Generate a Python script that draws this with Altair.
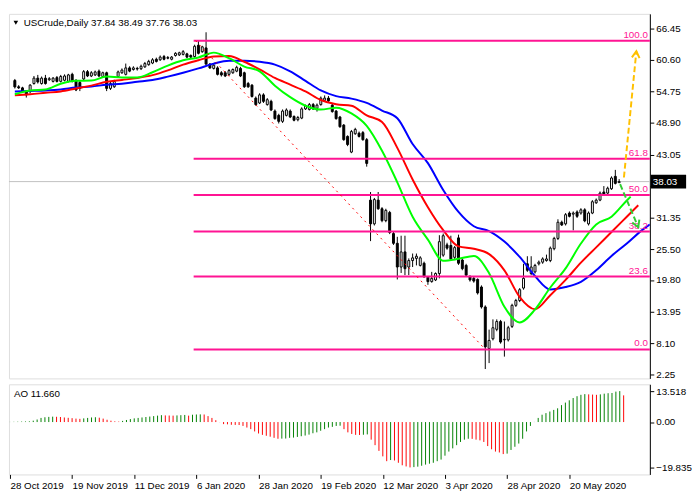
import altair as alt
import pandas as pd

# ---------------- data ----------------
symbol = "USCrude,Daily"
date_labels = ["28 Oct 2019", "19 Nov 2019", "11 Dec 2019", "6 Jan 2020", "28 Jan 2020",
               "19 Feb 2020", "12 Mar 2020", "3 Apr 2020", "28 Apr 2020", "20 May 2020"]
date_ticks = [0, 16, 32, 48, 64, 80, 96, 112, 128, 144]
price_ticks = [2.25, 8.10, 13.95, 19.80, 25.50, 31.35, 37.20, 43.05, 48.90, 54.75, 60.60, 66.45]

opens = [56.76, 55.6, 55.4, 54.7, 54.7, 56.2, 57.2, 56.2, 57.2, 56.9, 56.6, 57.3, 56.6, 56.8, 56.6, 57.9,
         56.8, 56.4, 57.05, 58.4, 57.6, 57.8, 58.5, 57.5, 58.2, 55.3, 55.6, 57.5, 58.2, 57.9, 59.1, 58.8,
         59.0, 58.95, 59.3, 59.7, 60.0, 60.7, 60.6, 61.2, 61.0, 60.7, 61.4, 61.5, 61.6, 61.7, 61.4, 61.2,
         63.3, 62.1, 62.8, 59.8, 59.0, 59.1, 58.2, 58.2, 57.9, 58.2, 58.5, 59.0, 58.2, 56.2, 55.9, 53.5,
         52.6, 54.1, 52.3, 52.9, 51.1, 50.3, 49.2, 50.3, 51.1, 50.1, 49.5, 49.8, 51.5, 51.4, 52.3, 51.6,
         52.3, 53.1, 53.5, 52.2, 51.1, 50.0, 48.5, 46.4, 43.5, 46.9, 47.0, 47.1, 45.8, 34.6, 30.2, 34.6,
         33.0, 30.8, 32.3, 28.4, 26.6, 22.2, 25.0, 22.2, 23.4, 23.8, 22.5, 22.9, 20.3, 19.5, 19.8, 21.0,
         24.4, 26.3, 26.2, 24.0, 27.6, 23.5, 22.5, 20.4, 20.1, 19.9, 18.5, 14.8, 7.1, 8.9, 10.65, 12.1,
         8.7, 8.7, 11.2, 15.1, 16.0, 18.3, 22.8, 21.0, 21.3, 22.8, 23.1, 23.4, 23.4, 25.6, 27.5, 30.5,
         30.2, 32.2, 32.0, 32.4, 32.2, 32.8, 30.2, 32.2, 34.1, 34.6, 36.1, 35.9, 36.7, 39.0, 37.84]
highs = [57.05, 55.9, 55.6, 54.9, 56.1, 57.6, 57.8, 57.5, 57.8, 57.4, 57.4, 57.6, 57.8, 57.9, 58.0, 58.2,
         57.0, 56.8, 58.7, 58.7, 58.5, 58.6, 58.8, 58.4, 58.4, 56.5, 56.9, 58.6, 59.0, 59.9, 59.4, 59.4,
         59.3, 59.7, 60.2, 60.6, 60.9, 61.0, 61.4, 61.5, 61.3, 61.3, 62.0, 62.1, 62.4, 61.9, 61.6, 63.4,
         64.1, 63.2, 65.7, 60.0, 59.9, 59.4, 58.5, 58.5, 58.9, 59.0, 59.5, 59.3, 58.4, 56.5, 56.1, 53.8,
         54.4, 54.4, 53.5, 53.2, 51.4, 50.6, 51.4, 51.6, 51.4, 50.3, 50.2, 51.8, 52.3, 52.6, 52.6, 52.5,
         53.8, 54.0, 53.9, 52.6, 51.3, 50.2, 48.7, 46.6, 47.6, 48.0, 47.3, 47.4, 46.1, 36.1, 35.0, 36.1,
         33.3, 33.0, 32.6, 28.7, 27.8, 28.0, 28.0, 23.8, 24.7, 24.7, 24.2, 23.2, 20.5, 21.3, 21.2, 28.1,
         28.4, 26.7, 28.0, 26.1, 28.2, 23.8, 22.8, 20.7, 20.4, 20.1, 18.8, 15.1, 10.6, 12.5, 12.5, 12.4,
         12.1, 11.3, 15.4, 16.3, 18.3, 22.8, 24.2, 24.2, 22.8, 23.4, 24.0, 24.5, 26.0, 27.8, 31.05, 30.8,
         32.2, 32.5, 32.5, 32.7, 33.1, 33.1, 32.5, 34.6, 34.9, 36.2, 37.2, 37.1, 39.0, 40.2, 38.49]
lows = [55.28, 55.2, 54.6, 53.6, 54.4, 56.0, 56.2, 56.0, 56.0, 56.7, 56.4, 56.4, 56.4, 56.6, 56.4, 56.4,
        54.8, 54.8, 56.8, 57.4, 57.4, 57.6, 57.4, 57.3, 54.8, 55.0, 55.4, 57.3, 58.0, 57.7, 58.3, 58.6,
        58.6, 58.7, 59.1, 59.5, 59.8, 60.1, 60.4, 60.5, 60.7, 60.5, 61.2, 61.3, 61.4, 60.9, 60.9, 61.0,
        61.6, 61.9, 59.7, 58.9, 58.8, 57.7, 57.5, 57.4, 57.6, 58.0, 58.3, 57.4, 55.4, 55.4, 53.6, 52.1,
        52.4, 52.6, 52.1, 51.1, 49.5, 48.8, 48.9, 50.1, 49.8, 49.2, 49.2, 49.6, 51.3, 51.2, 51.3, 51.0,
        52.1, 52.9, 52.8, 50.8, 49.5, 48.0, 45.6, 44.6, 43.3, 46.7, 46.2, 45.6, 40.8, 27.0, 29.9, 32.8,
        30.5, 30.5, 28.3, 26.3, 19.9, 21.1, 20.7, 20.7, 22.2, 22.5, 22.3, 20.2, 18.9, 19.3, 19.6, 20.1,
        24.1, 25.4, 23.4, 23.7, 22.6, 21.6, 20.4, 19.5, 19.3, 17.1, 14.5, 3.3, 4.4, 8.6, 10.3, 8.0,
        5.6, 8.4, 10.9, 14.8, 15.7, 18.0, 21.3, 20.7, 21.0, 22.5, 22.8, 23.2, 23.1, 25.3, 27.2, 29.8,
        29.9, 31.4, 29.0, 31.3, 31.9, 30.5, 29.9, 32.0, 33.9, 34.4, 35.5, 35.7, 36.5, 37.5, 37.76]
closes = [55.58, 55.4, 54.8, 54.1, 55.9, 57.2, 56.5, 57.2, 56.2, 57.1, 57.2, 56.6, 57.5, 57.6, 57.8, 56.6,
          55.0, 55.3, 58.4, 57.6, 58.2, 58.35, 57.6, 58.2, 55.3, 56.2, 56.6, 58.35, 58.7, 59.1, 58.5, 59.1,
          58.9, 59.4, 59.9, 60.3, 60.6, 60.3, 61.1, 60.7, 60.9, 61.1, 61.8, 61.9, 62.1, 61.1, 61.1, 63.1,
          61.8, 63.0, 59.8, 59.1, 59.6, 57.9, 57.8, 57.6, 58.6, 58.8, 59.2, 57.6, 55.6, 55.6, 53.8, 52.3,
          54.1, 52.9, 53.2, 51.3, 49.7, 49.2, 51.1, 51.3, 50.0, 49.4, 49.9, 51.5, 52.1, 52.3, 51.5, 52.2,
          53.5, 53.5, 53.0, 51.0, 49.7, 48.2, 45.8, 44.9, 47.3, 47.7, 46.4, 45.8, 41.4, 30.2, 34.7, 33.0,
          30.8, 32.7, 28.6, 26.6, 22.2, 25.0, 21.9, 23.4, 23.9, 24.2, 23.9, 20.4, 19.5, 20.1, 21.0, 26.9,
          28.0, 25.7, 23.7, 25.8, 22.9, 21.9, 20.7, 19.8, 19.6, 17.4, 14.8, 7.4, 8.6, 10.95, 12.1, 8.3,
          8.8, 10.95, 15.1, 16.0, 18.0, 20.1, 21.6, 22.2, 22.5, 23.1, 23.7, 23.7, 25.7, 27.5, 30.5, 30.0,
          31.9, 31.6, 32.2, 31.6, 32.8, 30.75, 32.2, 34.3, 34.6, 35.9, 35.7, 36.8, 38.7, 37.7, 38.03]

ao = [0.05, 0.1, 0.15, 0.2, 0.25, 0.3, 0.6, 1.1, 1.8, 2.1, 2.25, 2.35, 2.3, 2.2, 2.0, 1.85,
      1.7, 1.5, 1.4, 1.6, 1.8, 2.0, 2.1, 1.9, 1.5, 1.0, 0.6, 0.3, 0.2, 0.5, 0.9, 1.3,
      1.6, 1.8, 2.0, 2.2, 2.4, 2.6, 2.8, 3.0, 2.9, 2.85, 2.8, 2.9, 3.0, 3.1, 2.8, 3.2,
      3.3, 3.35, 3.3, 2.6, 1.8, 0.8, -0.05, -0.9, -1.0, -1.2, -1.25, -1.3, -1.7, -2.4, -3.1, -4.1,
      -5.0, -5.6, -6.0, -6.4, -6.9, -7.3, -7.25, -7.2, -6.9, -6.8, -6.5, -6.2, -5.9, -5.5, -4.9, -4.5,
      -3.8, -3.1, -2.4, -2.1, -1.7, -1.6, -3.1, -4.5, -5.2, -5.6, -5.65, -5.55, -5.4, -7.7, -10.1, -12.6,
      -15.0, -17.1, -16.6, -16.8, -17.8, -18.9, -19.4, -19.835, -19.7, -19.5, -19.1, -18.6, -18.2, -17.8, -17.1, -16.4,
      -14.7, -12.9, -11.5, -10.1, -8.7, -7.7, -7.3, -7.35, -7.7, -8.0, -8.7, -10.5, -11.9, -12.9, -13.3, -14.0,
      -13.8, -12.2, -10.8, -9.4, -7.3, -4.1, -1.7, 0.05, 1.8, 3.2, 3.9, 4.6, 5.3, 6.0, 7.4, 8.5,
      9.5, 10.5, 11.3, 11.9, 12.2, 12.1, 12.0, 11.9, 12.1, 12.4, 12.6, 12.7, 13.3, 13.518, 11.66]

# Alligator lines (read every 4 bars)
jaw_i = list(range(0, 165, 4)) + [166]
jaw_v = [54.74, 54.83, 54.92, 55.10, 55.45, 55.63, 55.99, 56.16, 56.52, 56.87, 57.49, 58.20, 59.00, 59.89,
         60.42, 60.42, 60.24, 59.71, 58.47, 56.70, 54.92, 53.86, 53.41, 52.62, 51.20, 49.78, 45.0, 41.45,
         36.48, 32.40, 29.75, 28.86, 26.91, 24.07, 20.53, 18.05, 18.5, 19.46, 21.59, 24.25, 26.55, 29.04, 30.1]
teeth_i = list(range(0, 161, 4)) + [163]
teeth_v = [54.03, 54.21, 54.48, 54.74, 55.28, 55.81, 56.52, 56.87, 57.23, 57.76, 58.64, 59.71, 60.51, 61.22,
           61.30, 60.24, 58.82, 57.23, 55.99, 54.74, 53.15, 52.35, 52.08, 50.31, 49.07, 44.28, 38.43, 33.29,
           29.04, 26.02, 25.58, 24.60, 21.59, 16.63, 14.38, 16.98, 19.82, 23.01, 25.85, 28.68, 31.52, 33.65]
lips_i = list(range(0, 161, 4)) + [161]
lips_v = [54.21, 54.92, 55.10, 56.16, 56.70, 56.75, 57.49, 57.32, 57.32, 58.29, 59.53, 60.51, 61.04, 61.93,
          60.90, 59.35, 58.47, 55.81, 53.68, 52.09, 51.38, 51.73, 50.67, 48.36, 43.75, 37.90, 31.52, 27.27,
          23.36, 23.72, 24.25, 21.06, 14.85, 11.93, 14.32, 18.40, 21.94, 26.55, 30.10, 31.52, 34.53, 35.24]

# Fibonacci retracement
fib_labels = ["100.0", "61.8", "50.0", "38.2", "23.6", "0.0"]
fib_prices = [64.14, 42.28, 35.54, 28.78, 20.43, 6.93]
fib_start = 46.75
fib_trend_i = [47.25, 123.0]
fib_trend_p = [64.14, 6.93]

# forecast arrows (bar index, price)
yellow_shaft_i = [159.25, 162.5]
yellow_shaft_p = [38.79, 62.19]
yellow_head_i = [161.33, 162.5, 163.33]
yellow_head_p = [61.04, 62.19, 60.90]
green_shaft_i = [158.25, 163.0]
green_shaft_p = [37.55, 29.57]
green_head_i = [161.43, 163.0, 163.28]
green_head_p = [30.44, 29.57, 30.97]

last_price = closes[-1]

# ---------------- chart ----------------
W, HM, HA = 654, 372, 92
XDOM = [-0.25, 164.75]
FONT = "Liberation Sans"
PINK = "#ff1493"

bars = pd.DataFrame({"i": list(range(len(opens))), "open": opens, "high": highs,
                     "low": lows, "close": closes})
xs = alt.Scale(domain=XDOM, nice=False, zero=False)
ys = alt.Scale(domain=[1.56, 69.11], nice=False, zero=False)

X = alt.X("i:Q", scale=xs, axis=None)
yaxis = alt.Axis(orient="right", values=price_ticks, title=None, labelFont=FONT,
                 labelExpr="abs(datum.value - 37.2) < 0.01 ? '' : format(datum.value, '.2f')",
                 labelFontSize=10, labelColor="black", tickColor="black", tickSize=4,
                 labelPadding=2, domainColor="black", grid=False, labelOverlap=False)


def Y(field):
    return alt.Y(field, scale=ys, axis=yaxis)


base = alt.Chart(bars)
wicks = base.mark_rule(color="black", strokeWidth=1).encode(x=X, y=Y("low:Q"), y2="high:Q")
bodies = base.mark_bar(size=2, stroke="black", strokeWidth=1).encode(
    x=X, y=Y("open:Q"), y2="close:Q",
    fill=alt.condition("datum.close >= datum.open", alt.value("white"), alt.value("black")))

cur_df = pd.DataFrame({"p": [last_price], "t": [f"{last_price:.2f}"]})
cur_line = alt.Chart(cur_df).mark_rule(color="#c0c0c0", strokeWidth=1).encode(
    x=alt.value(0), x2=alt.value(W), y=Y("p:Q"))


def ma_layer(idx, vals, color):
    df = pd.DataFrame({"i": idx, "v": vals})
    return alt.Chart(df).mark_line(color=color, strokeWidth=2, interpolate="monotone", clip=True).encode(
        x=X, y=Y("v:Q"))


jaw = ma_layer(jaw_i, jaw_v, "#0000ff")
teeth = ma_layer(teeth_i, teeth_v, "#ff0000")
lips = ma_layer(lips_i, lips_v, "#00ff00")

fib_df = pd.DataFrame({"label": fib_labels, "p": fib_prices, "x0": [fib_start] * len(fib_labels)})
fib_lines = alt.Chart(fib_df).mark_rule(color=PINK, strokeWidth=2).encode(
    x=alt.X("x0:Q", scale=xs, axis=None), x2=alt.value(W), y=Y("p:Q"))
fib_text = alt.Chart(fib_df).mark_text(color=PINK, font=FONT, fontSize=10, align="right",
                                       baseline="bottom", dy=-1).encode(
    x=alt.value(W - 2), y=Y("p:Q"), text="label:N")

trend_df = pd.DataFrame({"i": fib_trend_i, "v": fib_trend_p})
trend = alt.Chart(trend_df).mark_line(color="#ff0000", strokeWidth=1, strokeDash=[2, 4]).encode(
    x=X, y=Y("v:Q"))


def seg(idx, vals, color, dash):
    df = pd.DataFrame({"i": idx, "v": vals, "o": list(range(len(idx)))})
    kw = {"strokeDash": dash} if dash else {}
    return alt.Chart(df).mark_line(color=color, strokeWidth=2, clip=False, **kw).encode(
        x=X, y=Y("v:Q"), order="o:Q")


arrows = [
    seg(yellow_shaft_i, yellow_shaft_p, "#ffc000", [6, 3]),
    seg(yellow_head_i, yellow_head_p, "#ffc000", None),
    seg(green_shaft_i, green_shaft_p, "#33cc33", [6, 3]),
    seg(green_head_i, green_head_p, "#33cc33", None),
]

tag_box = alt.Chart(cur_df).mark_tick(color="black", size=36, thickness=14, opacity=1).encode(
    x=alt.value(W + 19), y=Y("p:Q"))
tag_text = alt.Chart(cur_df).mark_text(color="white", font=FONT, fontSize=10, align="left",
                                       baseline="middle").encode(
    x=alt.value(W + 3), y=Y("p:Q"), text="t:N")

hdr_df = pd.DataFrame({"t": [f"{symbol}  {opens[-1]:.2f} {highs[-1]:.2f} {lows[-1]:.2f} {closes[-1]:.2f}"]})
header = alt.Chart(hdr_df).mark_text(font=FONT, fontSize=10, align="left", baseline="middle",
                                     color="black").encode(x=alt.value(15), y=alt.value(9), text="t:N")
tri = alt.Chart(hdr_df).mark_point(shape="triangle-down", filled=True, color="black", size=22,
                                   opacity=1).encode(x=alt.value(7), y=alt.value(9))

main = alt.layer(cur_line, wicks, bodies, jaw, teeth, lips, fib_lines, fib_text, trend, *arrows,
                 tag_box, tag_text, header, tri).properties(width=W, height=HM)

# ---------------- AO panel ----------------
ao_df = pd.DataFrame({"i": list(range(len(ao))), "v": ao})
prev = [ao[0]] + ao[:-1]
ao_df["up"] = [1 if (k == 0 or ao[k] >= prev[k]) else 0 for k in range(len(ao))]
label_list = "[" + ",".join(f"'{d}'" for d in date_labels) + "]"
xaxis = alt.Axis(values=date_ticks, labelExpr=f"{label_list}[round(datum.value/16)]", title=None,
                 labelFont=FONT, labelFontSize=10, labelColor="black", labelAlign="left",
                 labelPadding=2, tickSize=4, tickColor="black", domain=False, grid=False,
                 labelFlush=False, labelOverlap=False)
ao_axis = alt.Axis(orient="right", values=[13.518, 0, -19.835],
                   labelExpr="datum.value == 0 ? '0.00' : format(datum.value, '.3f')",
                   title=None, labelFont=FONT, labelFontSize=10, labelColor="black", tickSize=4,
                   tickColor="black", labelPadding=2, domainColor="black", grid=False,
                   labelOverlap=False)
ays = alt.Scale(domain=[-22.9, 16.5], nice=False, zero=False)
ao_bars = alt.Chart(ao_df).mark_rule(strokeWidth=1).encode(
    x=alt.X("i:Q", scale=xs, axis=xaxis),
    y=alt.Y("v:Q", scale=ays, axis=ao_axis), y2=alt.datum(0),
    color=alt.condition("datum.up == 1", alt.value("#008000"), alt.value("#ff0000")))
ao_title = alt.Chart(pd.DataFrame({"t": [f"AO {ao[-1]:.3f}"]})).mark_text(
    font=FONT, fontSize=10, align="left", baseline="middle", color="black").encode(
    x=alt.value(5), y=alt.value(10), text="t:N")
ao_panel = alt.layer(ao_bars, ao_title).properties(width=W, height=HA)

chart = alt.vconcat(main, ao_panel, spacing=3).properties(
    padding={"left": 0, "top": 0, "right": 0, "bottom": 0}
).configure_view(stroke="black", strokeWidth=1).configure(background="white")

chart.save("out.html", embed_options={"renderer": "svg", "actions": False})
